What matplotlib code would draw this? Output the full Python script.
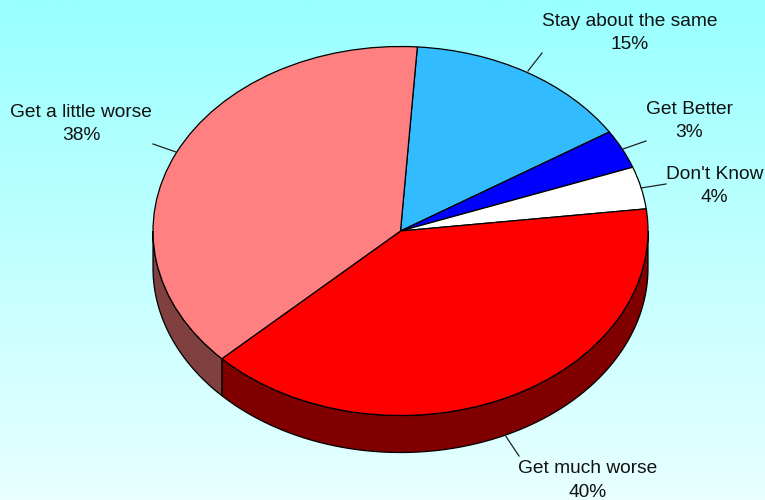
import numpy as np
import matplotlib
matplotlib.use('Agg')
import matplotlib.pyplot as plt

# Slice data, clockwise from the first slice. Labels show the rounded figure.
categories = ['Stay about the same', 'Get Better', "Don't Know", 'Get much worse', 'Get a little worse']
values = [14.9, 3.4, 3.7, 39.75, 38.25]

# Styling and layout (pixels in the 765x500 picture).
colors = ['#33BBFF', '#0000FF', '#FFFFFF', '#FF0000', '#FF8080']
wall_colors = ['#1A5E80', '#000080', '#808080', '#800000', '#804040']
cx, cy, rx, ry, depth = 400.5, 231, 247.5, 184.5, 37
first_edge = 3.9  # degrees clockwise from the top
label_pos = [(630, 33), (689, 121), (714.5, 186), (588, 480.5), (81, 124)]
leaders = [((528, 71), (542, 53)), ((623, 149), (646, 141)), ((641, 188), (666, 184)),
           ((505, 435), (519, 456)), ((176, 152), (153, 144))]

plt.rcParams['font.family'] = ['Liberation Sans', 'DejaVu Sans']

def to_xy(px, py):
    return (px - cx) / rx, (cy - py) / ry

fig = plt.figure(figsize=(7.65, 5.0), dpi=100)
ax = fig.add_axes([0, 0, 1, 1])

# Background gradient, cyan at the top fading towards white.
x0, y1 = to_xy(0, 0)
x1, y0 = to_xy(765, 500)
grad = np.linspace(0, 1, 256)[:, None, None]
top = np.array([153, 255, 255]) / 255
bottom = np.array([232, 255, 255]) / 255
ax.imshow(top + (bottom - top) * grad, extent=[x0, x1, y0, y1], aspect='auto', zorder=0, origin='upper')

# Side walls of the front half.
edges = first_edge + np.cumsum([0] + values) * 3.6
wall = depth / ry
for i in range(len(values)):
    a = max(edges[i], 90)
    b = min(edges[i + 1], 270)
    if a >= b:
        continue
    t = np.radians(np.linspace(a, b, 120))
    xs = np.sin(t)
    ys = np.cos(t)
    ax.fill(np.r_[xs, xs[::-1]], np.r_[ys, ys[::-1] - wall], facecolor=wall_colors[i],
            edgecolor='black', linewidth=0.9, zorder=1)

# Top face.
wedges, _ = ax.pie(values, colors=colors, startangle=90 - first_edge, counterclock=False, radius=1,
                   wedgeprops=dict(edgecolor='black', linewidth=0.9, zorder=2))
ax.set_aspect('auto')
ax.set_xlim(x0, x1)
ax.set_ylim(y0, y1)
ax.axis('off')

# Leader lines and labels.
for name, val, pos, (p, q) in zip(categories, values, label_pos, leaders):
    a = to_xy(*p)
    b = to_xy(*q)
    ax.plot([a[0], b[0]], [a[1], b[1]], color='#222222', linewidth=0.9, zorder=3)
    tx, ty = to_xy(*pos)
    ax.text(tx, ty, f'{name}\n{round(val)}%', ha='center', va='center', fontsize=13.8,
            color='#111111', linespacing=1.48, zorder=4)

fig.savefig('out.png', dpi=100)
